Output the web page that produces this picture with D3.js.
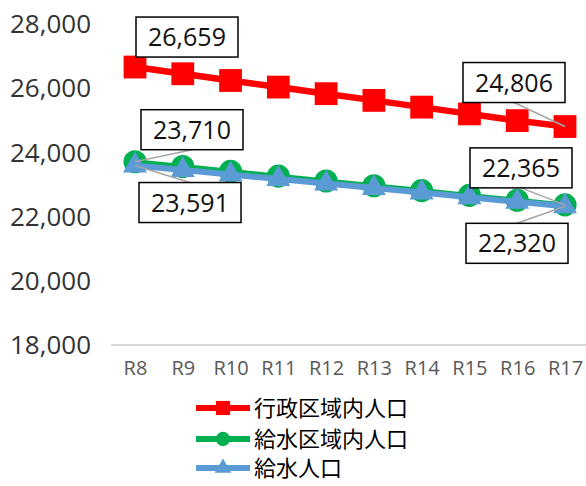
<!DOCTYPE html>
<html lang="ja">
<head>
<meta charset="utf-8">
<style type="text/css">
    body { margin: 0; background: #fff; }
    .tick text { font-family: "Open Sans", sans-serif; }
</style>
</head>
<body>
<svg width="586" height="486"></svg>

<script src="https://d3js.org/d3.v7.min.js"></script>
<script type="text/javascript">
// years and the three series
var years = ["R8", "R9", "R10", "R11", "R12", "R13", "R14", "R15", "R16", "R17"];
var gyousei = [26659, 26450, 26240, 26035, 25830, 25620, 25410, 25200, 24990, 24806];
var kyusuiKuiki = [23710, 23560, 23410, 23260, 23110, 22960, 22810, 22660, 22510, 22365];
var kyusui = [23591, 23450, 23310, 23170, 23030, 22890, 22750, 22600, 22460, 22320];
var yTicks = [18000, 20000, 22000, 24000, 26000, 28000];
var names = ["行政区域内人口", "給水区域内人口", "給水人口"];

var svg = d3.select("svg");

var x = d3.scalePoint().domain(years).range([135, 565]);
var y = d3.scaleLinear().domain([18000, 28000]).range([345, 24]);

var fmt = d3.format(",");

// y labels (no axis line)
svg.selectAll(".ylab")
  .data(yTicks)
  .enter().append("text")
    .attr("x", 91)
    .attr("y", function(d){ return y(d); })
    .attr("dy", "0.35em")
    .attr("text-anchor", "end")
    .style("font-family", "'Open Sans', sans-serif")
    .style("font-size", "26px")
    .attr("fill", "#333")
    .text(function(d){ return fmt(d); });

// bottom axis
var xAxis = svg.append("g")
    .attr("transform", "translate(0," + y(18000) + ")")
    .call(d3.axisBottom(x).tickSize(0).tickPadding(16));
xAxis.select(".domain").remove();
xAxis.selectAll("text").style("font-size", "20px").attr("fill", "#595959");
svg.append("line")
    .attr("x1", 111).attr("x2", 586)
    .attr("y1", y(18000)).attr("y2", y(18000))
    .attr("stroke", "#d9d9d9").attr("stroke-width", 2);

var series = [
  { vals: gyousei, color: "#ff0000", width: 6.5, sym: d3.symbolSquare, size: 520, lsize: 200 },
  { vals: kyusuiKuiki, color: "#00b050", width: 5, sym: d3.symbolCircle, size: 420, lsize: 160 },
  { vals: kyusui, color: "#5b9bd5", width: 6, sym: d3.symbolTriangle, size: 250, lsize: 120 }
];

var line = d3.line()
    .x(function(d, i){ return x(years[i]); })
    .y(function(d){ return y(d); });

series.forEach(function(s){
  svg.append("path")
    .attr("d", line(s.vals))
    .attr("fill", "none")
    .attr("stroke", s.color)
    .attr("stroke-width", s.width)
    .attr("stroke-linejoin", "round");
  svg.selectAll(null)
    .data(s.vals)
    .enter().append("path")
      .attr("transform", function(d, i){ return "translate(" + x(years[i]) + "," + y(d) + ")"; })
      .attr("d", d3.symbol().type(s.sym).size(s.size))
      .attr("fill", s.color);
});

// data labels: series index, point index, box offset from point
var labels = [
  { s: 0, i: 0, dx: 52, dy: -30, leader: false },
  { s: 1, i: 0, dx: 57, dy: -32, leader: "bottom" },
  { s: 2, i: 0, dx: 55, dy: 37, leader: "top" },
  { s: 0, i: 9, dx: -51, dy: -44, leader: "bottom" },
  { s: 1, i: 9, dx: -44, dy: -37, leader: "bottom" },
  { s: 2, i: 9, dx: -48, dy: 37, leader: "top" }
];
var bw = 102, bh = 40;

labels.forEach(function(l){
  var v = series[l.s].vals[l.i];
  var px = x(years[l.i]), py = y(v);
  var cx = px + l.dx, cy = py + l.dy;
  if (l.leader) {
    var ly = l.leader == "bottom" ? cy + bh / 2 : cy - bh / 2;
    svg.append("line")
      .attr("x1", cx).attr("y1", ly)
      .attr("x2", px).attr("y2", py)
      .attr("stroke", "#a6a6a6").attr("stroke-width", 1.5);
  }
  svg.append("rect")
    .attr("x", cx - bw / 2).attr("y", cy - bh / 2)
    .attr("width", bw).attr("height", bh)
    .attr("fill", "#fff").attr("stroke", "#000").attr("stroke-width", 1.5);
  svg.append("text")
    .attr("x", cx).attr("y", cy)
    .attr("dy", "0.36em")
    .attr("text-anchor", "middle")
    .style("font-family", "'Open Sans', sans-serif")
    .style("font-size", "25px")
    .attr("fill", "#111")
    .text(fmt(v));
});

// legend
var legY = [408, 439, 468];
series.forEach(function(s, k){
  var g = svg.append("g").attr("transform", "translate(0," + legY[k] + ")");
  g.append("line")
    .attr("x1", 196).attr("x2", 250)
    .attr("stroke", s.color).attr("stroke-width", 6);
  g.append("path")
    .attr("transform", "translate(223,0)")
    .attr("d", d3.symbol().type(s.sym).size(s.lsize))
    .attr("fill", s.color);
  g.append("text")
    .attr("x", 254)
    .attr("dy", "0.36em")
    .style("font-family", "'Noto Sans CJK JP', sans-serif")
    .style("font-size", "22px")
    .attr("fill", "#000")
    .text(names[k]);
});
</script>
</body>
</html>
